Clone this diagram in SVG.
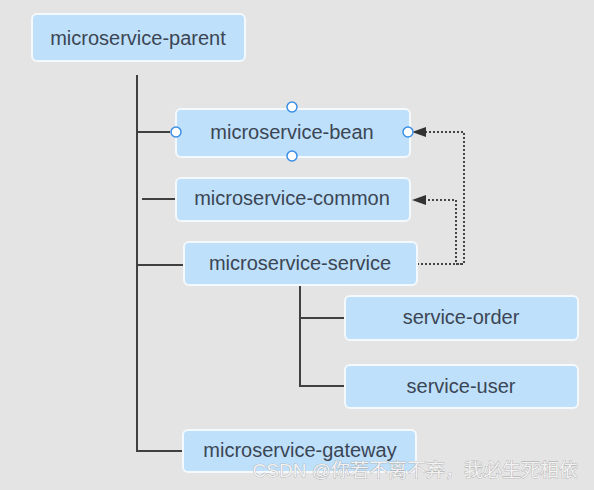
<svg xmlns="http://www.w3.org/2000/svg" width="594" height="490" viewBox="0 0 594 490">
<defs>
<style>
.box{fill:#bfe0fb;stroke:#f4f9fd;stroke-width:2}
.lbl{font-family:"Liberation Sans",Arial,sans-serif;font-size:20px;fill:#3b4654;text-anchor:middle;dominant-baseline:central}
.ln{stroke:#404040;stroke-width:2;fill:none}
.dot{stroke:#444;stroke-width:2;fill:none;stroke-dasharray:2 2}
.port{fill:#fff;stroke:#3a8ee6;stroke-width:1.5}
</style>
</defs>
<rect width="594" height="490" fill="#e4e4e4"/>
<g id="connectors">
<path class="ln" d="M137,75 V451 H183"/>
<path class="ln" d="M137,132 H170"/>
<path class="ln" d="M142,199 H176"/>
<path class="ln" d="M137,265 H184"/>
<path class="ln" d="M300,285 V386 H345"/>
<path class="ln" d="M300,318 H345"/>
<path class="dot" d="M417,264 H464 V132 H426"/>
<path class="dot" d="M462,264 H456 V200 H426"/>
<path d="M426,127 L412,132 L426,137 Z" fill="#333"/>
<path d="M426,195 L412,200 L426,205 Z" fill="#333"/>
</g>
<g id="parent"><rect class="box" x="32" y="14" width="213" height="47" rx="5"/><text class="lbl" x="138" y="38">microservice-parent</text></g>
<g id="bean"><rect class="box" x="176" y="109" width="234" height="48" rx="5"/><text class="lbl" x="292" y="132">microservice-bean</text>
<circle class="port" cx="292" cy="107" r="5"/><circle class="port" cx="292" cy="156" r="5"/><circle class="port" cx="176" cy="132" r="5"/><circle class="port" cx="408" cy="132" r="5"/></g>
<g id="common"><rect class="box" x="176" y="178" width="234" height="43" rx="5"/><text class="lbl" x="292" y="198">microservice-common</text></g>
<g id="service"><rect class="box" x="184" y="242" width="233" height="43" rx="5"/><text class="lbl" x="300" y="263">microservice-service</text></g>
<g id="order"><rect class="box" x="345" y="296" width="233" height="44" rx="5"/><text class="lbl" x="461" y="317">service-order</text></g>
<g id="user"><rect class="box" x="345" y="365" width="233" height="43" rx="5"/><text class="lbl" x="461" y="386">service-user</text></g>
<g id="gateway"><rect class="box" x="183" y="430" width="233" height="42" rx="5"/><text class="lbl" x="300" y="450">microservice-gateway</text></g>
<text x="578" y="470" text-anchor="end" style="font-family:'Liberation Sans','Noto Sans CJK SC',sans-serif;font-size:19px;fill:#f2f2f2;stroke:#9a9a9a;stroke-width:0.6;paint-order:stroke" dominant-baseline="central">CSDN @你若不离不弃，我必生死相依</text>
</svg>
